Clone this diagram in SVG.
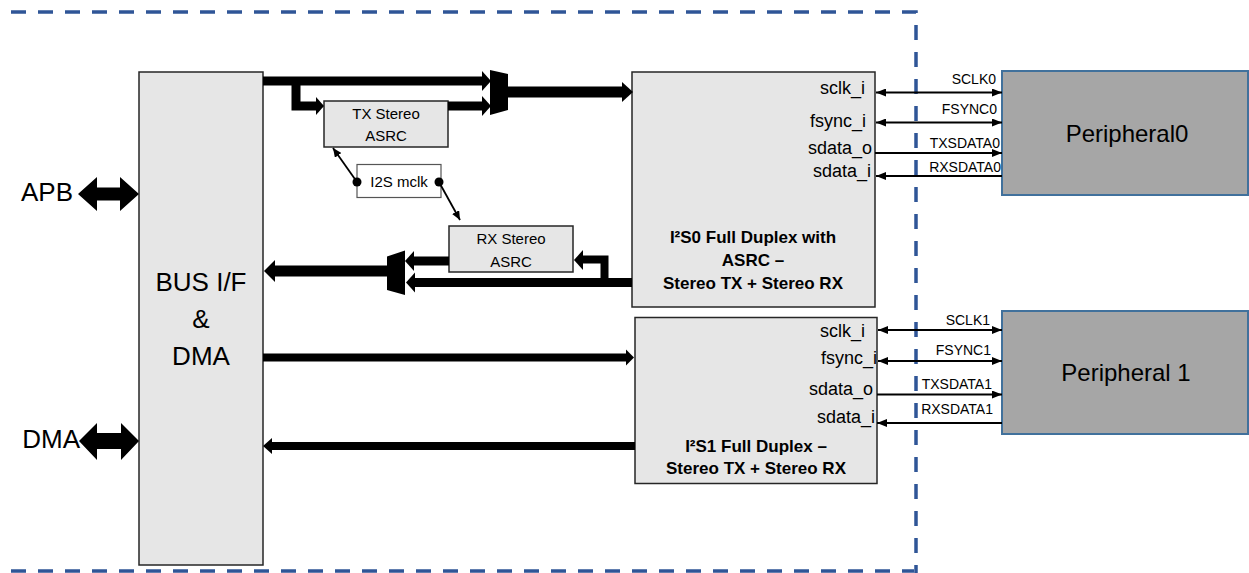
<svg xmlns="http://www.w3.org/2000/svg" width="1249" height="573" viewBox="0 0 1249 573">
<style>
text{font-family:"Liberation Sans",Arial,sans-serif;fill:#000}
.blk{fill:#e6e6e6;stroke:#262626;stroke-width:1.5}
.per{fill:#a6a6a6;stroke:#41719c;stroke-width:2}
.bus{stroke:#000;fill:none;stroke-linejoin:miter;stroke-linecap:butt}
.hd{fill:#000}
.sig{stroke:#000;stroke-width:2;fill:none}
.clk{stroke:#000;stroke-width:1.8;fill:none}
.border{stroke:#2f5597;stroke-width:3.5;fill:none;stroke-dasharray:15 12}
.port{font-size:18px;text-anchor:end}
.slab{font-size:14px;text-anchor:end}
.ttl{font-size:17px;font-weight:bold;text-anchor:middle}
.small{font-size:15px;text-anchor:middle}
.big{font-size:26px;text-anchor:middle}
.pname{font-size:24px;text-anchor:middle}
</style>
<defs>
<marker id="ah" viewBox="0 0 10 8" markerWidth="10" markerHeight="8" refX="10" refY="4" orient="auto-start-reverse" markerUnits="userSpaceOnUse">
<path d="M0,0 L10,4 L0,8 z" fill="#000"/>
</marker>
<marker id="ahs" viewBox="0 0 9 8" markerWidth="9" markerHeight="8" refX="9" refY="4" orient="auto" markerUnits="userSpaceOnUse">
<path d="M0,0 L9,4 L0,8 z" fill="#000"/>
</marker>
</defs>
<g id="boundary">
<path class="border" d="M11,12 H916 V573"/>
<path class="border" d="M11,571 H914"/>
</g>
<g id="bus_if">
<rect class="blk" x="139" y="72" width="124" height="493"/>
<text class="big" x="201" y="291">BUS I/F</text>
<text class="big" x="201" y="328">&amp;</text>
<text class="big" x="201" y="365">DMA</text>
</g>
<g id="apb">
<text font-size="26" text-anchor="end" x="73" y="201">APB</text>
<polygon class="hd" points="78,194 97,177 97,187.5 120,187.5 120,177 139,194 120,211 120,200.5 97,200.5 97,211"/>
</g>
<g id="dma">
<text font-size="26" text-anchor="end" x="80" y="448">DMA</text>
<polygon class="hd" points="79,441 97,423 97,433 121,433 121,423 139,441 121,460 121,449 97,449 97,460"/>
</g>
<g id="tx_asrc">
<rect class="blk" x="324" y="101" width="124" height="46"/>
<text class="small" x="386" y="119">TX Stereo</text>
<text class="small" x="386" y="141">ASRC</text>
</g>
<g id="rx_asrc">
<rect class="blk" x="449" y="226" width="124" height="46"/>
<text class="small" x="511" y="244">RX Stereo</text>
<text class="small" x="511" y="267">ASRC</text>
</g>
<g id="mclk">
<rect x="357" y="164.5" width="84" height="33" fill="#fff" stroke="#555" stroke-width="1.2"/>
<text class="small" x="399" y="187">I2S mclk</text>
</g>
<g id="tx_mux">
<polygon class="hd" points="490,70 508,74 508,110 490,115"/>
</g>
<g id="rx_mux">
<polygon class="hd" points="405,250.5 405,295 387,290 387,256.5"/>
</g>
<g id="i2s0">
<rect class="blk" x="632" y="72" width="243" height="235"/>
<text class="port" x="865" y="94">sclk_i</text>
<text class="port" x="866" y="127">fsync_i</text>
<text class="port" x="872" y="154">sdata_o</text>
<text class="port" x="871" y="177">sdata_i</text>
<text class="ttl" x="753" y="243">I²S0 Full Duplex with</text>
<text class="ttl" x="753" y="266">ASRC –</text>
<text class="ttl" x="753" y="289">Stereo TX + Stereo RX</text>
</g>
<g id="i2s1">
<rect class="blk" x="635" y="317.5" width="242" height="166"/>
<text class="port" x="865" y="337">sclk_i</text>
<text class="port" x="877" y="364">fsync_i</text>
<text class="port" x="873" y="395">sdata_o</text>
<text class="port" x="875" y="423">sdata_i</text>
<text class="ttl" x="756" y="452" font-size="16">I²S1 Full Duplex –</text>
<text class="ttl" x="756" y="474" font-size="16">Stereo TX + Stereo RX</text>
</g>
<g id="peripheral0">
<rect class="per" x="1002" y="71" width="246" height="124"/>
<text class="pname" x="1127" y="142">Peripheral0</text>
</g>
<g id="peripheral1">
<rect class="per" x="1002" y="311" width="246" height="123"/>
<text class="pname" x="1126" y="381">Peripheral 1</text>
</g>
<g id="connectors">
<line class="bus" x1="263" y1="81" x2="483" y2="81" stroke-width="9"/>
<polygon class="hd" points="491,81 482,71 482,91"/>
<path class="bus" d="M296,77 V106 H317" stroke-width="9"/>
<polygon class="hd" points="324,106 316,97 316,115"/>
<line class="bus" x1="448" y1="106" x2="483" y2="106" stroke-width="9"/>
<polygon class="hd" points="491,106 482,96 482,116"/>
<line class="bus" x1="508" y1="92" x2="623" y2="92" stroke-width="11"/>
<polygon class="hd" points="633,92 622,82 622,102"/>
<line class="bus" x1="632" y1="282.5" x2="414" y2="282.5" stroke-width="9"/>
<polygon class="hd" points="406,282.5 415,272.5 415,292.5"/>
<path class="bus" d="M604.5,287 V259.5 H582" stroke-width="8"/>
<polygon class="hd" points="574,260 583,250 583,270"/>
<line class="bus" x1="449" y1="261" x2="413" y2="261" stroke-width="9"/>
<polygon class="hd" points="405,261 414,251 414,271"/>
<line class="bus" x1="387" y1="271" x2="274" y2="271" stroke-width="11"/>
<polygon class="hd" points="264,271 275,260 275,282"/>
<line class="bus" x1="263" y1="357.5" x2="627" y2="357.5" stroke-width="8"/>
<polygon class="hd" points="634,357.5 626,349.5 626,365.5"/>
<line class="bus" x1="635" y1="446" x2="271" y2="446" stroke-width="8"/>
<polygon class="hd" points="263,446 272,438 272,454"/>
<circle cx="357" cy="182" r="4.5" fill="#000"/>
<circle cx="439" cy="182" r="4.5" fill="#000"/>
<line class="clk" x1="357" y1="182" x2="333" y2="148" marker-end="url(#ahs)"/>
<line class="clk" x1="439" y1="182" x2="460" y2="220" marker-end="url(#ahs)"/>
<line class="sig" x1="876" y1="92.5" x2="1002" y2="92.5" marker-start="url(#ah)" marker-end="url(#ah)"/>
<line class="sig" x1="876" y1="122.5" x2="1002" y2="122.5" marker-start="url(#ah)" marker-end="url(#ah)"/>
<line class="sig" x1="875" y1="153" x2="1002" y2="153" marker-end="url(#ah)"/>
<line class="sig" x1="1002" y1="176" x2="876" y2="176" marker-end="url(#ah)"/>
<text class="slab" x="996" y="84">SCLK0</text>
<text class="slab" x="997" y="114">FSYNC0</text>
<text class="slab" x="1000" y="147.5">TXSDATA0</text>
<text class="slab" x="1001" y="172">RXSDATA0</text>
<line class="sig" x1="878" y1="330" x2="1002" y2="330" marker-start="url(#ah)" marker-end="url(#ah)"/>
<line class="sig" x1="878" y1="361" x2="1002" y2="361" marker-start="url(#ah)" marker-end="url(#ah)"/>
<line class="sig" x1="877" y1="394.5" x2="1002" y2="394.5" marker-end="url(#ah)"/>
<line class="sig" x1="1002" y1="423" x2="877" y2="423" marker-end="url(#ah)"/>
<text class="slab" x="990" y="324.5">SCLK1</text>
<text class="slab" x="991" y="355">FSYNC1</text>
<text class="slab" x="992" y="388.5">TXSDATA1</text>
<text class="slab" x="993" y="413.5">RXSDATA1</text>
</g>
</svg>
